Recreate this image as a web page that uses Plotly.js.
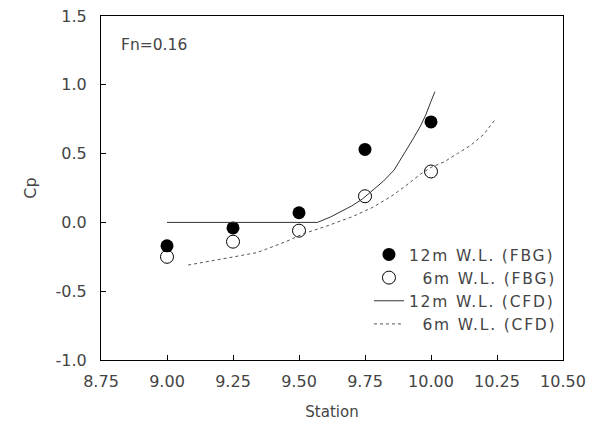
<!DOCTYPE html>
<html><head><meta charset="utf-8">
<script src="https://cdn.plot.ly/plotly-3.0.1.min.js"></script>
<style>body{margin:0;background:#fff}#c{width:610px;height:438px}
.legendtext{letter-spacing:1.8px}</style>
</head><body><div id="c"></div>
<script>
const stations = [9.00, 9.25, 9.50, 9.75, 10.00];
const fbg12 = [-0.17, -0.04, 0.07, 0.53, 0.73];
const fbg6 = [-0.25, -0.14, -0.06, 0.19, 0.37];
const cfd12X = [9.00, 9.20, 9.40, 9.55, 9.57, 9.62, 9.66, 9.70, 9.74, 9.78, 9.82, 9.86, 9.90, 9.93, 9.96, 9.98, 10.00, 10.015];
const cfd12Y = [0.00, 0.00, 0.00, 0.00, 0.00, 0.04, 0.08, 0.12, 0.17, 0.235, 0.30, 0.38, 0.50, 0.60, 0.70, 0.78, 0.88, 0.95];
const cfd6X = [9.08, 9.20, 9.34, 9.45, 9.52, 9.60, 9.70, 9.78, 9.85, 9.90, 9.96, 10.00, 10.05, 10.10, 10.15, 10.20, 10.24];
const cfd6Y = [-0.31, -0.27, -0.22, -0.14, -0.08, -0.03, 0.04, 0.11, 0.19, 0.26, 0.35, 0.40, 0.44, 0.50, 0.56, 0.64, 0.74];
const xTicks = [8.75, 9.00, 9.25, 9.50, 9.75, 10.00, 10.25, 10.50];
const xTickText = ['8.75', '9.00', '9.25', '9.50', '9.75', '10.00', '10.25', '10.50'];
const yTicks = [-1.0, -0.5, 0.0, 0.5, 1.0, 1.5];
const yTickText = ['-1.0', '-0.5', '0.0', '0.5', '1.0', '1.5'];

const fam = 'DejaVu Sans, Liberation Sans, sans-serif';
const f = (s) => ({family: fam, size: s, color: '#444'});
const traces = [
  {x: stations, y: fbg12, mode: 'markers', name: '12m W.L. (FBG)',
   marker: {symbol: 'circle', size: 13, color: '#000'}},
  {x: stations, y: fbg6, mode: 'markers', name: '\u00a0\u00a06m W.L. (FBG)',
   marker: {symbol: 'circle-open', size: 13, color: '#000', line: {width: 1, color: '#000'}}},
  {x: cfd12X, y: cfd12Y, mode: 'lines', name: '12m W.L. (CFD)', line: {color: '#333', width: 1}},
  {x: cfd6X, y: cfd6Y, mode: 'lines', name: '\u00a0\u00a06m W.L. (CFD)', line: {color: '#555', width: 1, dash: 'dot'}}
];
const layout = {
  width: 610, height: 438,
  margin: {l: 101, r: 47, t: 16, b: 78},
  paper_bgcolor: '#fff', plot_bgcolor: '#fff',
  font: f(16),
  showlegend: true,
  legend: {x: 0.58, y: 0.355, xanchor: 'left', yanchor: 'top', bgcolor: 'rgba(0,0,0,0)',
           font: f(15.5), itemwidth: 30, tracegroupgap: 0},
  xaxis: {range: [8.75, 10.5], tickvals: xTicks, ticktext: xTickText, ticks: 'inside', ticklen: 5,
          tickcolor: '#000', showline: true, linecolor: '#000', linewidth: 1, mirror: true,
          showgrid: false, zeroline: false, tickfont: f(16), ticklabelstandoff: 7,
          title: {text: 'Station', font: f(15), standoff: 16}},
  yaxis: {range: [-1.0, 1.5], tickvals: yTicks, ticktext: yTickText, ticks: 'inside', ticklen: 5,
          tickcolor: '#000', showline: true, linecolor: '#000', linewidth: 1, mirror: true,
          showgrid: false, zeroline: false, tickfont: f(16), ticklabelstandoff: 10,
          title: {text: 'Cp', font: f(16), standoff: 14}},
  annotations: [{xref: 'paper', yref: 'paper', x: 0.04, y: 0.915, xanchor: 'left', yanchor: 'middle',
                 text: 'Fn=0.16', showarrow: false, font: f(15.5)}]
};
Plotly.newPlot('c', traces, layout, {displayModeBar: false, staticPlot: true});
</script></body></html>
